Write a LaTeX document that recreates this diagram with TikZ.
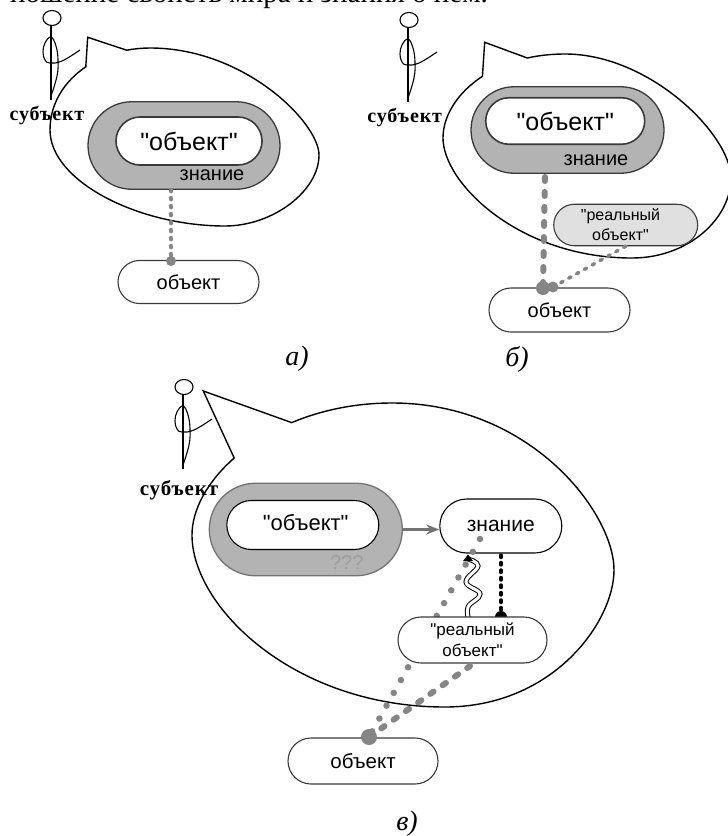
\documentclass[tikz,border=0pt]{standalone}
\usepackage{fontspec}
\setmainfont{Liberation Serif}
\newfontfamily\arialf{Liberation Sans}
\usetikzlibrary{shapes.misc,arrows.meta}
\definecolor{knowfill}{HTML}{B3B3B3}
\definecolor{linkgray}{HTML}{858585}
\definecolor{penc}{HTML}{3A3A3A}
\newcommand{\fsz}[1]{\fontsize{#1}{#1}\selectfont}
\tikzset{
  bubble/.style={draw=black,fill=white,line width=1.4pt,line join=miter},
  pill/.style={rounded rectangle,draw=penc,fill=white,line width=1.1pt,inner sep=0pt,align=center,font=\arialf\fsz{20}},
  outerpill/.style={pill,fill=knowfill,line width=1.3pt},
  innerpill/.style={pill,line width=1.6pt},
  subj/.style={font=\bfseries\fsz{20}\addfontfeature{LetterSpace=4},inner sep=0pt},
  capt/.style={font=\itshape\fsz{28},inner sep=0pt},
  plain/.style={font=\arialf\fsz{20},inner sep=0pt},
  dotlink/.style={draw=linkgray,line width=4pt,line cap=round,dash pattern=on 1.5pt off 6.5pt},
  dashlink/.style={draw=linkgray,line width=6pt,line cap=round,dash pattern=on 4pt off 11pt},
  dashthin/.style={draw=linkgray,line width=3.6pt,line cap=round,dash pattern=on 2.5pt off 6.5pt},
  spotlink/.style={draw=linkgray,line width=6.5pt,line cap=round,dash pattern=on 0pt off 14.7pt},
  blacklink/.style={draw=black,line width=3.4pt,line cap=round,dash pattern=on 2.5pt off 5pt},
  figure/.pic={
    \draw[line width=1.1pt] (0,0) ellipse [x radius=9pt,y radius=7.5pt];
    \draw[line width=1.1pt] (-1,8) -- (-1,82);
    \draw[line width=1.1pt] plot[smooth,tension=0.7] coordinates {(-1,78) (5,58) (6,42) (4,28) (-1,19) (-7,25) (-9,34) (-7,42) (-2,45) (10,43) (28,32)};
  }
}
\begin{document}
\begin{tikzpicture}[x=1pt,y=-1pt]
\useasboundingbox (0,0) rectangle (728,836);
\node[anchor=base west,inner sep=0pt,font=\fsz{29}] (title) at (10,2.5) {ношение свойств мира и знания о нем.};

% panel a
\draw[bubble] (87.7,37.3) -- (126.7,50.2) .. controls (134.2,48.8) and (142.05,48) .. (150,48)
  .. controls (245,48) and (319,123) .. (319,155)
  .. controls (319,191) and (273,226) .. (225,226)
  .. controls (138,226) and (50,181) .. (50,130)
  .. controls (50,103.6) and (64.2,81.4) .. (85.8,66.8) -- cycle;
\pic at (52,18) {figure};
\node[subj] (subjA) at (47,115) {субъект};
\node[outerpill,minimum width=192pt,minimum height=87.5pt] (knowA) at (184,145.5) {};
\node[innerpill,minimum width=146pt,minimum height=48pt,font=\arialf\fsz{25}] (imgA) at (189,141) {"объект"};
\node[plain] (lblA) at (212,175) {знание};
\node[pill,minimum width=141pt,minimum height=43pt] (objA) at (188.5,282) {объект};
\coordinate (jointA) at (171,261);
\draw[dotlink] (knowA.south -| jointA) -- (jointA);
\fill[linkgray] (jointA) circle (5pt);
\node[capt] (capA) at (297,359) {а)};

% panel b
\draw[bubble] (484.7,42.3) -- (527.3,58) .. controls (538.9,55.4) and (551.5,54) .. (565,54)
  .. controls (650,54) and (731,135) .. (731,178)
  .. controls (731,218) and (689,258) .. (632,258)
  .. controls (519,258) and (443,183) .. (443,138)
  .. controls (443,116) and (457.2,92.8) .. (482.4,76.3) -- cycle;
\pic at (409,20) {figure};
\node[subj] (subjB) at (404.7,117) {субъект};
\node[outerpill,minimum width=193pt,minimum height=86.5pt] (knowB) at (567.5,130) {};
\node[innerpill,minimum width=159pt,minimum height=46.5pt,font=\arialf\fsz{25}] (imgB) at (565.2,121) {"объект"};
\node[plain] (lblB) at (596,160) {знание};
\node[pill,minimum width=144pt,minimum height=41.5pt,fill=black!12] (realB) at (625.7,225) {};
\node[inner sep=0pt,align=center,font=\arialf\fsz{16}] (realBt) at (620.5,224.5) {"реальный\\[4pt]объект"};
\node[pill,minimum width=141pt,minimum height=44pt] (objB) at (559.5,310) {объект};
\coordinate (jointB) at (543,288);
\coordinate (jointBb) at (553,287);
\coordinate (startB) at (545,177);
\coordinate (endBb) at (626,246);
\draw[dashlink] (startB) -- (jointB);
\draw[dashthin] (jointBb) -- (endBb);
\fill[linkgray] (jointB) circle (7pt);
\fill[linkgray] (jointBb) circle (5.5pt);
\node[capt] (capB) at (517,359) {б)};

% panel c
\draw[bubble] (203.3,391) -- (291.7,422.6) .. controls (320.6,410.5) and (354.56,403) .. (392,403)
  .. controls (531,403) and (614,513) .. (614,570)
  .. controls (614,622) and (553,707) .. (445,707)
  .. controls (294,707) and (192,607) .. (192,535)
  .. controls (192,509.6) and (207.4,481.6) .. (234.2,458) -- cycle;
\pic at (184,387) {figure};
\node[subj,font=\bfseries\fsz{21}\addfontfeature{LetterSpace=4}] (subjC) at (179,490) {субъект};
\node[outerpill,draw=black!55,minimum width=193pt,minimum height=92.5pt] (knowC) at (305.8,529.5) {};
\node[pill,draw=black,minimum width=152pt,minimum height=49pt] (imgC) at (302.8,525) {};
\node[inner sep=0pt,font=\arialf\fsz{22}] (imgCt) at (305.7,523) {"объект"};
\node[plain,text=black!38] (lblC) at (346.7,563) {???};
\node[pill,minimum width=122pt,minimum height=54pt,draw=black,font=\arialf\fsz{21}] (knowledgeC) at (500.8,526) {знание};
\draw[draw=black!55,line width=2.5pt,-{Stealth[length=13pt,width=10pt]}] (knowC.east) -- (knowC.east -| knowledgeC.west);
\coordinate (dotEnd) at (480,539);
\coordinate (jointC) at (369,737);
\draw[spotlink] (dotEnd) -- (jointC);
\coordinate (blackTop) at (501,555);
\coordinate (blackEnd) at (501,617);
\draw[blacklink] (blackTop) -- (blackEnd);
\fill[black] (blackEnd) circle (6pt);
\draw[line width=1pt,double=white,double distance=3pt] plot[smooth,tension=0.7] coordinates {(469,620) (468,607) (480,594) (466,582) (478,566) (468,559)};
\fill[black] (468,554.5) -- (463,561) -- (473,561) -- cycle;
\node[pill,minimum width=149pt,minimum height=46pt,font=\arialf\fsz{17}] (realC) at (472.5,640) {"реальный\\[4pt]объект"};
\node[pill,minimum width=150pt,minimum height=46pt,font=\arialf\fsz{20.5}] (objC) at (363,761) {объект};
\coordinate (realCend) at (470,666);
\draw[dashlink] (jointC) -- (realCend);
\fill[linkgray] (jointC) circle (8pt);
\node[capt] (capC) at (407,824) {в)};
\end{tikzpicture}
\end{document}
